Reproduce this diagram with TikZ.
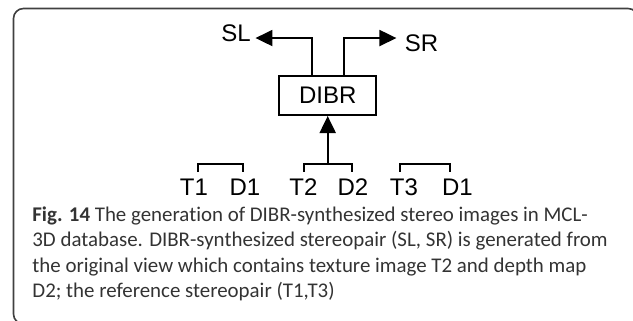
\documentclass[tikz,border=0pt]{standalone}
\usepackage{fontspec}
\setmainfont{Liberation Sans}
\newfontfamily\capfont[Ligatures=NoCommon]{Carlito}
\usetikzlibrary{arrows.meta, positioning, calc}

\begin{document}
\begin{tikzpicture}[x=0.5pt, y=-0.5pt,
    lbl/.style={inner sep=4pt, font=\fontsize{12}{14}\selectfont},
    box/.style={lbl, draw, line width=1pt, minimum width=48.5pt, minimum height=19.5pt},
    arr/.style={line width=1pt, -{Triangle[length=8.5pt, width=8pt]}},
    capline/.style={anchor=base west, inner sep=0pt, text=black!80,
      font=\capfont\fontsize{10.45}{12.75}\selectfont}]

  \clip (0,0) rectangle (633,321);

  % frame round the figure and its caption
  \draw[black!75, line width=0.8pt, rounded corners=5pt] (13.5,8.5) rectangle (638,324);

  % renderer and the synthesized pair
  \node[box] (dibr) at (327.7,95.5) {DIBR};
  \node[lbl, anchor=base] (sl) at (236,41.7) {SL};
  \node[lbl, anchor=base] (sr) at (421.5,51.7) {SR};

  \draw[arr] ([xshift=-8.1pt]dibr.north) |- ([xshift=-1.8pt, yshift=-2.3pt]sl.east);
  \draw[arr] ([xshift=8.1pt]dibr.north) |- ([yshift=2.7pt]sr.west);

  % texture and depth of the three views
  \node[lbl, anchor=base] (t1) at (194,195) {T1};
  \node[lbl, anchor=base] (d1) at (245,195) {D1};
  \node[lbl, anchor=base] (t2) at (303.5,195) {T2};
  \node[lbl, anchor=base] (d2) at (353,195) {D2};
  \node[lbl, anchor=base] (t3) at (404,195) {T3};
  \node[lbl, anchor=base] (d3) at (457.5,195) {D1};

  \draw[line width=1pt] ([xshift=2pt, yshift=-1pt]t1.north) -- ++(0,4pt) -| ([xshift=-1pt, yshift=-1pt]d1.north);
  \draw[line width=1pt] ([yshift=-1pt]t2.north) -- ++(0,4pt) coordinate (top2) -| ([xshift=-0.5pt, yshift=-1pt]d2.north);
  \draw[line width=1pt] ([xshift=-2pt, yshift=-1pt]t3.north) -- ++(0,4pt) -| ([xshift=-4pt, yshift=-1pt]d3.north);

  \draw[arr] (dibr.south |- top2) -- (dibr.south);

  % caption
  \node[capline] (cap1) at (32,221) {\textbf{Fig. 14} The generation of DIBR-synthesized stereo images in MCL-};
  \node[capline] (cap2) at (32,246.5) {3D database. DIBR-synthesized stereopair (SL, SR) is generated from};
  \node[capline] (cap3) at (32,272) {the original view which contains texture image T2 and depth map};
  \node[capline] (cap4) at (32,297.5) {D2; the reference stereopair (T1,T3)};
\end{tikzpicture}
\end{document}
